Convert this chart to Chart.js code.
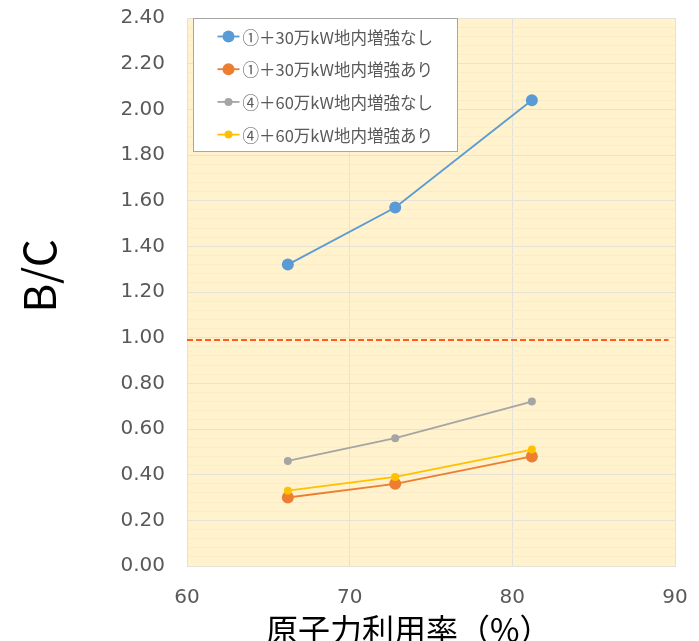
<!DOCTYPE html>
<html lang="ja">
<head>
<meta charset="utf-8">
<title>原子力利用率とB/C</title>
<script src="https://cdn.jsdelivr.net/npm/chart.js@4/dist/chart.umd.min.js"></script>
<style>
  html, body { margin: 0; padding: 0; background: #ffffff; overflow: hidden; }
  #wrap { position: relative; width: 699px; height: 641px; }
</style>
</head>
<body>
<div id="wrap"><canvas id="chart" width="699" height="641"></canvas></div>
<script>
// 原子力利用率（%）
const utilization = [66.2, 72.8, 81.2];

// B/C per case
const bc30NoReinforce = [1.32, 1.57, 2.04];
const bc30Reinforce   = [0.30, 0.36, 0.48];
const bc60NoReinforce = [0.46, 0.56, 0.72];
const bc60Reinforce   = [0.33, 0.39, 0.51];

const seriesLabels = [
  '①＋30万kW地内増強なし',
  '①＋30万kW地内増強あり',
  '④＋60万kW地内増強なし',
  '④＋60万kW地内増強あり'
];

// Break-even reference line and its horizontal extent
const breakEvenValue = 0.99;
const breakEvenRange = [60, 89.6];

// Axis ticks
const xTicks = [60, 70, 80, 90];
const yTickLabels = ['0.00','0.20','0.40','0.60','0.80','1.00','1.20','1.40','1.60','1.80','2.00','2.20','2.40'];

const xTitle = '原子力利用率（%）';
const yTitle = 'B/C';

const FONT = '"Noto Sans CJK JP", "Noto Sans", sans-serif';
const TICK_FONT = '"DejaVu Sans", sans-serif';
const colors = ['#5B9BD5', '#ED7D31', '#A5A5A5', '#FFC000'];
const radii = [6, 6, 4, 4];
const seriesValues = [bc30NoReinforce, bc30Reinforce, bc60NoReinforce, bc60Reinforce];

const toPoints = vals => vals.map((v, i) => ({ x: utilization[i], y: v }));

const datasets = seriesValues.map((vals, i) => ({
  label: seriesLabels[i],
  data: toPoints(vals),
  borderColor: colors[i],
  backgroundColor: colors[i],
  borderWidth: 1.8,
  pointRadius: radii[i],
  pointHoverRadius: radii[i],
  pointBorderWidth: 0,
  tension: 0,
  order: 4 - i
}));

datasets.push({
  label: '',
  data: breakEvenRange.map(x => ({ x, y: breakEvenValue })),
  borderColor: '#FF5A1F',
  borderWidth: 2,
  borderDash: [6, 3],
  pointRadius: 0,
  order: 10
});

// Pale fill behind the plot area
const plotBackground = {
  id: 'plotBackground',
  beforeDraw(chart) {
    const { ctx, chartArea: a } = chart;
    ctx.save();
    ctx.fillStyle = '#FFF2CC';
    ctx.fillRect(a.left, a.top, a.right - a.left, a.bottom - a.top);
    ctx.restore();
  }
};

// Boxed legend in the upper-left of the plot, plus axis titles
const overlay = {
  id: 'overlay',
  afterDraw(chart) {
    const { ctx, chartArea: a } = chart;
    ctx.save();
    // legend box
    const bx = a.left + 6.5, by = a.top + 0.5, bw = 264, bh = 133;
    ctx.fillStyle = '#ffffff';
    ctx.fillRect(bx, by, bw, bh);
    ctx.strokeStyle = '#A6A6A6';
    ctx.lineWidth = 1;
    ctx.strokeRect(bx, by, bw, bh);
    ctx.font = '16.5px ' + FONT;
    ctx.textBaseline = 'middle';
    ctx.textAlign = 'left';
    seriesLabels.forEach((lab, i) => {
      const cy = by + 18 + i * 32.7;
      const lx = bx + 24;
      ctx.strokeStyle = colors[i];
      ctx.lineWidth = 1.8;
      ctx.beginPath();
      ctx.moveTo(lx, cy);
      ctx.lineTo(lx + 22, cy);
      ctx.stroke();
      ctx.fillStyle = colors[i];
      ctx.beginPath();
      ctx.arc(lx + 11, cy, radii[i], 0, Math.PI * 2);
      ctx.fill();
      ctx.fillStyle = '#595959';
      ctx.fillText(lab, lx + 25, cy + 1);
    });
    // y title
    ctx.fillStyle = '#000000';
    ctx.font = '44px ' + FONT;
    ctx.textAlign = 'center';
    ctx.textBaseline = 'middle';
    ctx.translate(37, 276);
    ctx.rotate(-Math.PI / 2);
    ctx.fillText(yTitle, 0, 2);
    ctx.setTransform(1, 0, 0, 1, 0, 0);
    // x title
    ctx.font = '32px ' + FONT;
    ctx.textAlign = 'left';
    ctx.fillText(xTitle, 266, 630);
    ctx.restore();
  }
};

const isMajor = v => Math.abs(v * 5 - Math.round(v * 5)) < 1e-6;

new Chart(document.getElementById('chart'), {
  type: 'line',
  data: { datasets },
  plugins: [plotBackground, overlay],
  options: {
    responsive: false,
    animation: false,
    layout: { padding: { left: 0, right: 24, top: 18, bottom: 0 } },
    plugins: {
      legend: { display: false },
      tooltip: { enabled: false }
    },
    scales: {
      x: {
        type: 'linear',
        min: xTicks[0],
        max: xTicks[xTicks.length - 1],
        afterBuildTicks(scale) { scale.ticks = xTicks.map(v => ({ value: v })); },
        afterFit(scale) {
          scale.height = 75;
          scale.paddingLeft = 0;
          scale.paddingRight = 0;
        },
        grid: { color: '#E3E1DA', lineWidth: 1, drawTicks: false },
        border: { color: '#E3E1DA' },
        ticks: {
          padding: 20,
          color: '#595959',
          font: { family: TICK_FONT, size: 20 },
          callback: v => String(v)
        }
      },
      y: {
        min: 0,
        max: 2.4,
        afterFit(scale) {
          scale.width = 187;
          scale.paddingTop = 0;
          scale.paddingBottom = 0;
        },
        ticks: {
          stepSize: 0.04,
          autoSkip: false,
          padding: 22,
          color: '#595959',
          font: { family: TICK_FONT, size: 20 },
          callback: v => isMajor(v) ? yTickLabels[Math.round(v * 5)] : ''
        },
        grid: {
          drawTicks: false,
          lineWidth: 1,
          color: ctx => isMajor(ctx.tick.value) ? '#E6E2D6' : '#F8ECCB'
        },
        border: { color: '#E3E1DA' }
      }
    }
  }
});
</script>
</body>
</html>
